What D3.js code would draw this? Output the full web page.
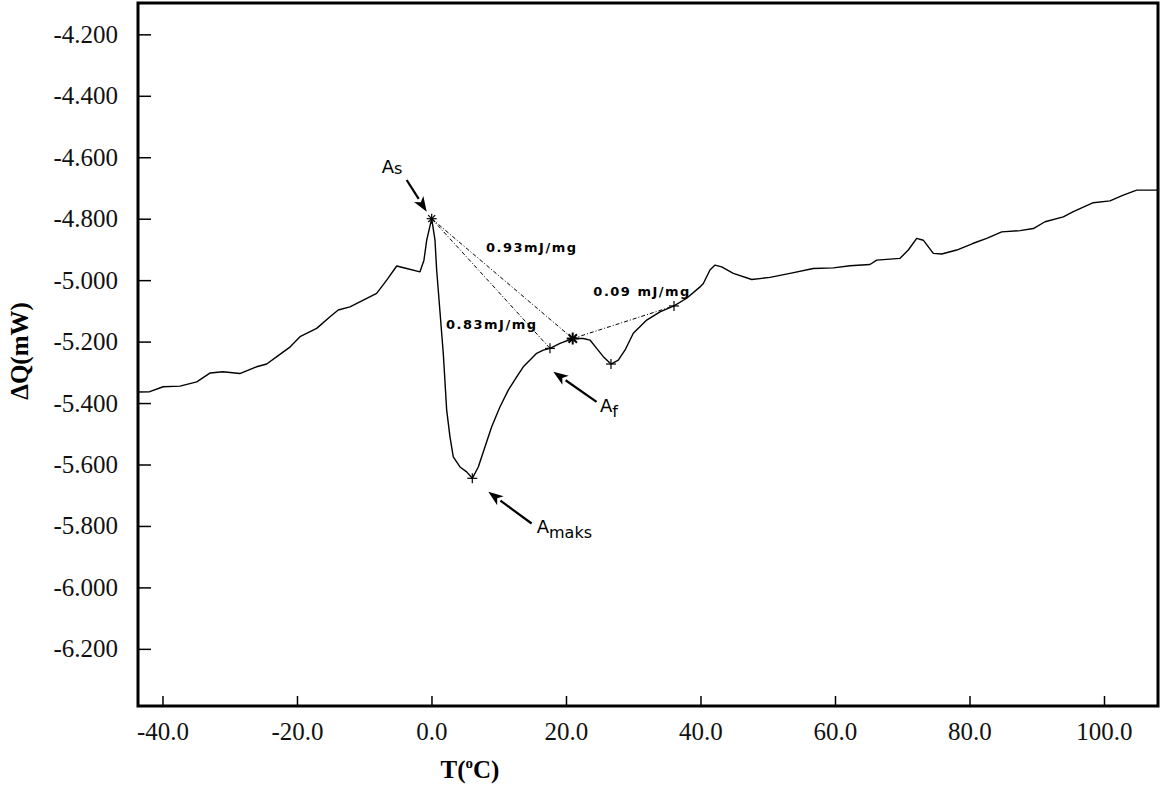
<!DOCTYPE html>
<html>
<head>
<meta charset="utf-8">
<script src="https://cdn.jsdelivr.net/npm/d3@7"></script>
<style>
  body { margin: 0; background: #fff; }
  svg { display: block; }
</style>
</head>
<body>
<svg id="chart" width="1166" height="789"></svg>
<script>
// DSC heating curve
var temps = [-43.6, -41.9, -39.9, -37.4, -34.9, -32.9, -31.0, -28.5, -26.0, -24.5, -23.0, -21.0,
  -19.55, -17.07, -15.09, -13.86, -12.12, -10.14, -8.15, -6.66, -5.17, -3.69, -1.71, -1.12, -0.71,
  0.03, 0.52, 0.77, 1.75, 2.26, 2.75, 3.24, 4.24, 5.23, 6.07, 6.96, 7.96, 8.95, 10.19, 11.42,
  12.67, 13.65, 14.65, 15.64, 16.62, 17.62, 19.11, 21.0, 22.57, 23.57, 24.56, 25.55, 26.69,
  27.78, 28.77, 30.01, 32.0, 33.98, 36.06, 37.95, 39.93, 40.42, 41.41, 42.16, 43.15, 44.88,
  47.62, 50.33, 53.31, 56.77, 59.75, 62.23, 65.20, 66.20, 69.67, 70.90, 72.15, 73.13, 74.62,
  75.87, 78.10, 80.57, 82.56, 84.79, 87.51, 89.49, 91.23, 93.95, 95.44, 98.41, 100.89, 102.87,
  104.86, 108.0];
var heatFlow = [-5.364, -5.363, -5.347, -5.345, -5.331, -5.302, -5.298, -5.304, -5.282, -5.273,
  -5.249, -5.217, -5.184, -5.157, -5.119, -5.097, -5.087, -5.065, -5.043, -5.000, -4.954, -4.962,
  -4.973, -4.935, -4.870, -4.800, -4.870, -4.967, -5.237, -5.423, -5.510, -5.575, -5.608, -5.624,
  -5.645, -5.608, -5.542, -5.477, -5.412, -5.358, -5.315, -5.282, -5.260, -5.238, -5.228, -5.222,
  -5.206, -5.190, -5.190, -5.195, -5.222, -5.249, -5.273, -5.260, -5.228, -5.173, -5.130, -5.103,
  -5.084, -5.059, -5.022, -5.011, -4.967, -4.951, -4.957, -4.978, -4.998, -4.991, -4.978, -4.962,
  -4.960, -4.953, -4.949, -4.935, -4.929, -4.902, -4.864, -4.870, -4.913, -4.915, -4.902, -4.880,
  -4.864, -4.843, -4.839, -4.832, -4.810, -4.794, -4.777, -4.748, -4.742, -4.723, -4.707, -4.707];

var xTicks = [-40, -20, 0, 20, 40, 60, 80, 100];
var yTicks = [-4.2, -4.4, -4.6, -4.8, -5.0, -5.2, -5.4, -5.6, -5.8, -6.0, -6.2];

// picked points on the curve
var markerNames = ["As", "Amaks", "Af", "A2", "min2", "end2"];
var markerT = [0.03, 6.07, 17.62, 21.0, 26.69, 36.06];
var markerQ = [-4.800, -5.645, -5.222, -5.190, -5.273, -5.084];
var markerShape = ["star", "plus", "plus", "bigstar", "plus", "plus"];

// integration baselines (from marker index to marker index)
var baseFrom = [0, 0, 3];
var baseTo = [3, 2, 5];

var energyText = ["0.93mJ/mg", "0.83mJ/mg", "0.09 mJ/mg"];
var energyT = [8.10, 2.16, 24.07];
var energyQ = [-4.909, -5.159, -5.052];

var peakMain = ["A", "A", "A"];
var peakSub = ["s", "f", "maks"];
var peakT = [-7.41, 25.06, 15.64];
var peakQ = [-4.651, -5.430, -5.823];
var arrowFromT = [-3.69, 24.55, 14.89];
var arrowFromQ = [-4.674, -5.396, -5.792];
var arrowToT = [-0.71, 18.11, 8.45];
var arrowToQ = [-4.777, -5.298, -5.689];

(function() {
  var plotL = 138, plotR = 1158, plotT = 3, plotB = 706;
  var serif = "'Liberation Serif', 'Times New Roman', serif";
  var sans = "'DejaVu Sans', Verdana, sans-serif";

  var svg = d3.select("#chart");

  var x = d3.scaleLinear().domain([-43.64, 108.03]).range([plotL, plotR]);
  var y = d3.scaleLinear().domain([-6.386, -4.098]).range([plotB, plotT]);

  // plain hyphen as minus sign, like the original software
  var loc = d3.formatLocale({decimal: ".", thousands: ",", grouping: [3], currency: ["", ""], minus: "-"});

  // ticks point into the plot
  var xAxis = d3.axisTop(x).tickValues(xTicks).tickSize(10).tickFormat(loc.format(".1f"));
  var yAxis = d3.axisRight(y).tickValues(yTicks).tickSize(13).tickFormat(loc.format(".3f"));

  var gx = svg.append("g").attr("transform", "translate(0," + plotB + ")").call(xAxis);
  gx.select(".domain").remove();
  gx.selectAll(".tick line").attr("stroke", "#000").attr("stroke-width", 1.5);
  gx.selectAll(".tick text")
    .attr("y", 34)
    .attr("dy", 0)
    .attr("font-family", serif)
    .attr("font-size", 25)
    .attr("fill", "#111");

  var gy = svg.append("g").attr("transform", "translate(" + plotL + ",0)").call(yAxis);
  gy.select(".domain").remove();
  gy.selectAll(".tick line").attr("stroke", "#000").attr("stroke-width", 1.5);
  gy.selectAll(".tick text")
    .attr("x", -20)
    .attr("text-anchor", "end")
    .attr("font-family", serif)
    .attr("font-size", 25)
    .attr("fill", "#111");

  // frame
  svg.append("rect")
    .attr("x", plotL).attr("y", plotT)
    .attr("width", plotR - plotL).attr("height", plotB - plotT)
    .attr("fill", "none").attr("stroke", "#000").attr("stroke-width", 3);

  // axis titles
  svg.append("text")
    .attr("transform", "translate(28,351) rotate(-90)")
    .attr("text-anchor", "middle")
    .attr("font-family", serif)
    .attr("font-weight", "bold")
    .attr("font-size", 25)
    .text("ΔQ(mW)");

  var xt = svg.append("text")
    .attr("x", 470).attr("y", 778)
    .attr("text-anchor", "middle")
    .attr("font-family", serif)
    .attr("font-weight", "bold")
    .attr("font-size", 25);
  xt.append("tspan").text("T(");
  xt.append("tspan").attr("font-size", 15).attr("dy", -10).text("o");
  xt.append("tspan").attr("dy", 10).text("C)");

  // curve
  var pts = temps.map(function(t, i) { return [t, heatFlow[i]]; });
  var line = d3.line().x(function(d) { return x(d[0]); }).y(function(d) { return y(d[1]); });
  svg.append("path")
    .datum(pts)
    .attr("d", line)
    .attr("fill", "none")
    .attr("stroke", "#000")
    .attr("stroke-width", 1.4)
    .attr("stroke-linejoin", "round");

  // baselines
  baseFrom.forEach(function(a, i) {
    var b = baseTo[i];
    svg.append("line")
      .attr("x1", x(markerT[a])).attr("y1", y(markerQ[a]))
      .attr("x2", x(markerT[b])).attr("y2", y(markerQ[b]))
      .attr("stroke", "#000")
      .attr("stroke-width", 1)
      .attr("stroke-dasharray", "4,2,1,2");
  });

  // markers
  markerT.forEach(function(t, i) {
    var cx = x(t), cy = y(markerQ[i]), s = markerShape[i];
    var r = s == "bigstar" ? 6 : 5;
    var g = svg.append("g").attr("stroke", "#000").attr("stroke-width", s == "bigstar" ? 2 : 1.2);
    g.append("line").attr("x1", cx - r).attr("x2", cx + r).attr("y1", cy).attr("y2", cy);
    g.append("line").attr("x1", cx).attr("x2", cx).attr("y1", cy - r).attr("y2", cy + r);
    if (s != "plus") {
      var k = r * 0.7;
      g.append("line").attr("x1", cx - k).attr("x2", cx + k).attr("y1", cy - k).attr("y2", cy + k);
      g.append("line").attr("x1", cx - k).attr("x2", cx + k).attr("y1", cy + k).attr("y2", cy - k);
    }
  });

  // energy labels
  energyText.forEach(function(txt, i) {
    svg.append("text")
      .attr("x", x(energyT[i])).attr("y", y(energyQ[i]))
      .attr("font-family", sans)
      .attr("font-weight", "bold")
      .attr("font-size", 13)
      .attr("letter-spacing", 1.5)
      .text(txt);
  });

  // peak labels with arrows
  peakMain.forEach(function(m, i) {
    var t = svg.append("text")
      .attr("x", x(peakT[i])).attr("y", y(peakQ[i]))
      .attr("font-family", sans)
      .attr("font-size", 18);
    t.append("tspan").text(m);
    t.append("tspan").attr("font-size", 16).attr("dy", i == 0 ? 1 : 5).text(peakSub[i]);

    var x1 = x(arrowFromT[i]), y1 = y(arrowFromQ[i]);
    var x2 = x(arrowToT[i]), y2 = y(arrowToQ[i]);
    var ang = Math.atan2(y2 - y1, x2 - x1);
    var hl = 15, hw = 5.5;
    var bx = x2 - hl * Math.cos(ang), by = y2 - hl * Math.sin(ang);
    svg.append("line")
      .attr("x1", x1).attr("y1", y1).attr("x2", bx).attr("y2", by)
      .attr("stroke", "#000").attr("stroke-width", 2.2);
    svg.append("path")
      .attr("d", "M" + x2 + "," + y2 +
        "L" + (bx - hw * Math.sin(ang)) + "," + (by + hw * Math.cos(ang)) +
        "L" + (bx + 4 * Math.cos(ang)) + "," + (by + 4 * Math.sin(ang)) +
        "L" + (bx + hw * Math.sin(ang)) + "," + (by - hw * Math.cos(ang)) + "Z")
      .attr("fill", "#000");
  });
})();
</script>
</body>
</html>
